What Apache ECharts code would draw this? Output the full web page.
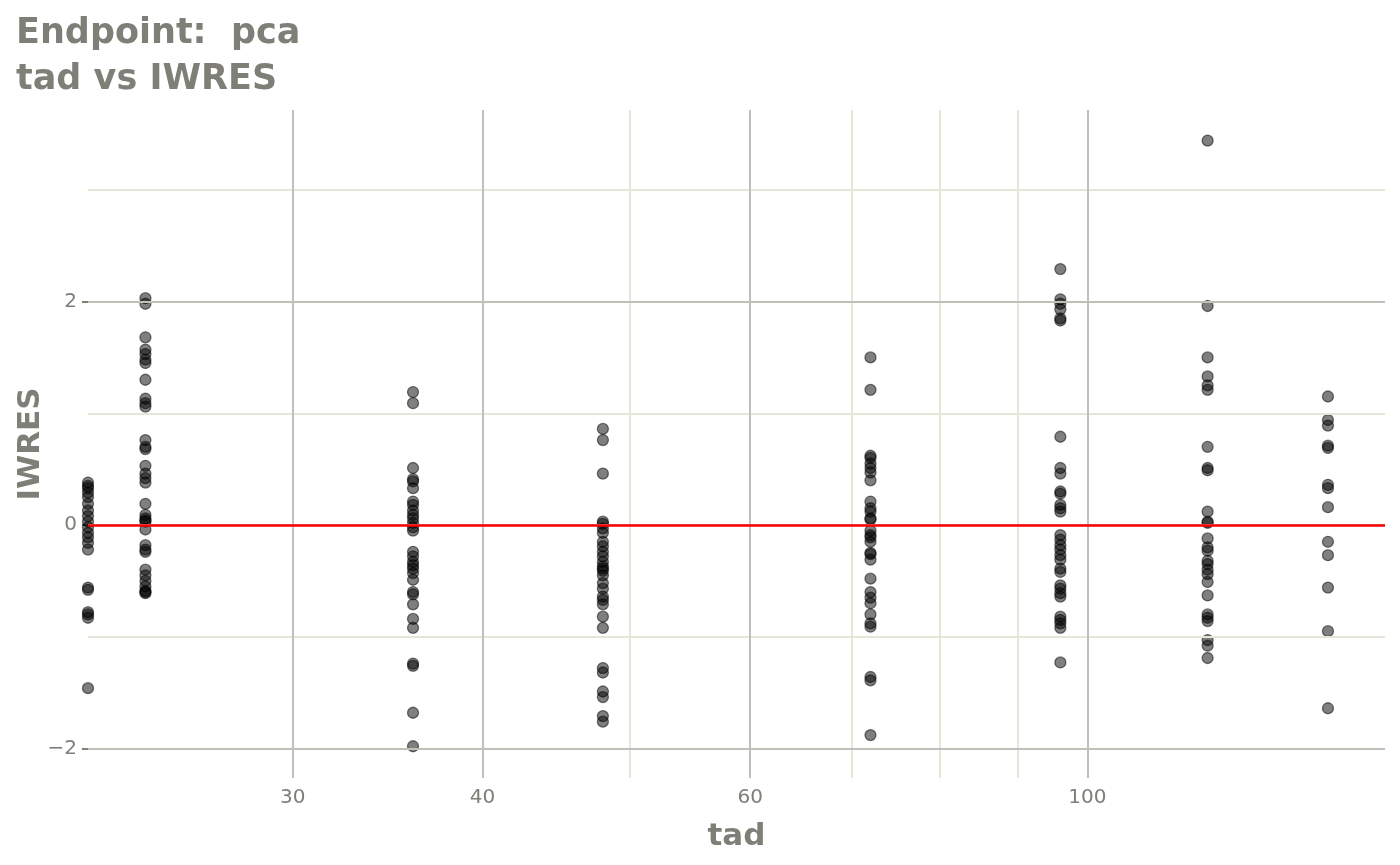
<!DOCTYPE html>
<html>
<head>
<meta charset="utf-8">
<script src="https://cdn.jsdelivr.net/npm/echarts@6/dist/echarts.min.js"></script>
<style>html,body{margin:0;padding:0;background:#fff}#chart{width:1400px;height:865px}</style>
</head>
<body>
<div id="chart"></div>
<script>
// ---- data ----
const tadTimes = [22, 24, 36, 48, 72, 96, 120, 144];
const iwres22 = [0.38, 0.35, 0.33, 0.29, 0.25, 0.19, 0.13, 0.08, 0.03, -0.02, -0.07, -0.11, -0.16, -0.22, -0.56, -0.58, -0.78, -0.80, -0.83, -1.46];
const iwres24 = [2.03, 1.98, 1.68, 1.57, 1.53, 1.48, 1.45, 1.30, 1.13, 1.09, 1.06, 0.76, 0.70, 0.68, 0.53, 0.46, 0.42, 0.38, 0.19, 0.09, 0.06, 0.04, 0.03, -0.04, -0.18, -0.22, -0.24, -0.40, -0.45, -0.50, -0.55, -0.59, -0.60, -0.61];
const iwres36 = [1.19, 1.09, 0.51, 0.41, 0.39, 0.33, 0.21, 0.18, 0.13, 0.09, 0.06, 0.02, -0.02, -0.05, -0.24, -0.28, -0.33, -0.36, -0.39, -0.43, -0.49, -0.60, -0.62, -0.71, -0.84, -0.92, -1.24, -1.26, -1.68, -1.98];
const iwres48 = [0.86, 0.76, 0.46, 0.03, 0.01, -0.03, -0.07, -0.15, -0.19, -0.24, -0.28, -0.33, -0.37, -0.39, -0.41, -0.45, -0.52, -0.57, -0.64, -0.67, -0.71, -0.82, -0.92, -1.28, -1.32, -1.49, -1.54, -1.71, -1.76];
const iwres72 = [1.50, 1.21, 0.62, 0.60, 0.55, 0.51, 0.47, 0.40, 0.21, 0.15, 0.12, 0.06, 0.05, -0.05, -0.09, -0.11, -0.15, -0.25, -0.26, -0.31, -0.48, -0.60, -0.65, -0.70, -0.80, -0.88, -0.91, -1.36, -1.39, -1.88];
const iwres96 = [2.29, 2.02, 1.98, 1.93, 1.85, 1.83, 0.79, 0.51, 0.46, 0.30, 0.28, 0.18, 0.15, 0.12, -0.09, -0.13, -0.18, -0.22, -0.27, -0.31, -0.39, -0.42, -0.54, -0.57, -0.61, -0.64, -0.82, -0.85, -0.88, -0.92, -1.23];
const iwres120 = [3.44, 1.96, 1.50, 1.33, 1.25, 1.21, 0.70, 0.51, 0.49, 0.12, 0.03, 0.02, -0.12, -0.20, -0.23, -0.32, -0.35, -0.40, -0.44, -0.51, -0.63, -0.80, -0.83, -0.86, -1.03, -1.08, -1.19];
const iwres144 = [1.15, 0.94, 0.89, 0.71, 0.69, 0.36, 0.33, 0.16, -0.15, -0.27, -0.56, -0.95, -1.64];
const iwresByTime = [iwres22, iwres24, iwres36, iwres48, iwres72, iwres96, iwres120, iwres144];

// ---- tick / grid values ----
const xMajorTicks = [30, 40, 60, 100];
const xMinorGrid = [50, 70, 80, 90];
const yMajorTicks = [-2, 0, 2];
const yMinorGrid = [-1, 1, 3];
const xRange = [22, 157];
const yRange = [-2.264, 3.714];

// ---- build ----
const points = [];
tadTimes.forEach((t, i) => iwresByTime[i].forEach(v => points.push([t, v])));

const FONT = 'DejaVu Sans';
const TXT = '#7f7f77';
const MAJ = '#c0c0b6';
const MIN = '#e5e5d8';

const gridLines = [];
xMinorGrid.forEach(v => gridLines.push({ xAxis: v, lineStyle: { color: MIN, width: 2, type: 'solid' } }));
yMinorGrid.forEach(v => gridLines.push({ yAxis: v, lineStyle: { color: MIN, width: 2, type: 'solid' } }));
xMajorTicks.forEach(v => gridLines.push({ xAxis: v, lineStyle: { color: MAJ, width: 2, type: 'solid' } }));
yMajorTicks.forEach(v => gridLines.push({ yAxis: v, lineStyle: { color: MAJ, width: 2, type: 'solid' } }));

const chart = echarts.init(document.getElementById('chart'), null, { renderer: 'canvas' });
chart.setOption({
  animation: false,
  backgroundColor: '#ffffff',
  title: {
    text: 'Endpoint:  pca\ntad vs IWRES',
    left: 11, top: 6,
    textStyle: { fontFamily: FONT, fontSize: 35, fontWeight: 'bold', color: TXT, lineHeight: 46 }
  },
  grid: { left: 88, right: 15, top: 110, bottom: 87, containLabel: false, outerBoundsMode: 'none' },
  xAxis: {
    type: 'log', logBase: 10, min: xRange[0], max: xRange[1],
    name: 'tad', nameLocation: 'middle', nameGap: 43, nameMoveOverlap: false,
    nameTextStyle: { fontFamily: FONT, fontSize: 31, fontWeight: 'bold', color: TXT },
    axisLine: { show: false },
    axisTick: { show: true, customValues: xMajorTicks, length: 6, lineStyle: { color: TXT, width: 2 } },
    axisLabel: { customValues: xMajorTicks, margin: 10, fontFamily: FONT, fontSize: 20, color: TXT },
    splitLine: { show: false }, minorTick: { show: false }, minorSplitLine: { show: false }
  },
  yAxis: {
    type: 'value', min: yRange[0], max: yRange[1],
    name: 'IWRES', nameLocation: 'middle', nameGap: 42, nameRotate: 90, nameMoveOverlap: false,
    nameTextStyle: { fontFamily: FONT, fontSize: 31, fontWeight: 'bold', color: TXT },
    axisLine: { show: false },
    axisTick: { show: true, customValues: yMajorTicks, length: 6, lineStyle: { color: TXT, width: 2 } },
    axisLabel: { customValues: yMajorTicks, margin: 11, fontFamily: FONT, fontSize: 20, color: TXT,
      formatter: v => String(v).replace('-', '\u2212') },
    splitLine: { show: false }
  },
  series: [
    {
      type: 'scatter', z: 1, data: [], silent: true,
      markLine: { silent: true, symbol: ['none', 'none'], label: { show: false }, emphasis: { disabled: true }, animation: false, data: gridLines }
    },
    {
      type: 'scatter', z: 2, data: points, symbol: 'circle', symbolSize: 11, clip: true,
      itemStyle: { color: 'rgba(0,0,0,0.5)', borderColor: 'rgba(0,0,0,0.5)', borderWidth: 1.3, opacity: 1 },
      emphasis: { disabled: true }
    },
    {
      type: 'scatter', z: 3, data: [], silent: true,
      markLine: { silent: true, symbol: ['none', 'none'], label: { show: false }, emphasis: { disabled: true }, animation: false,
        data: [{ yAxis: 0, lineStyle: { color: '#ff0000', width: 2.6, type: 'solid' } }] }
    }
  ]
});
</script>
</body>
</html>
